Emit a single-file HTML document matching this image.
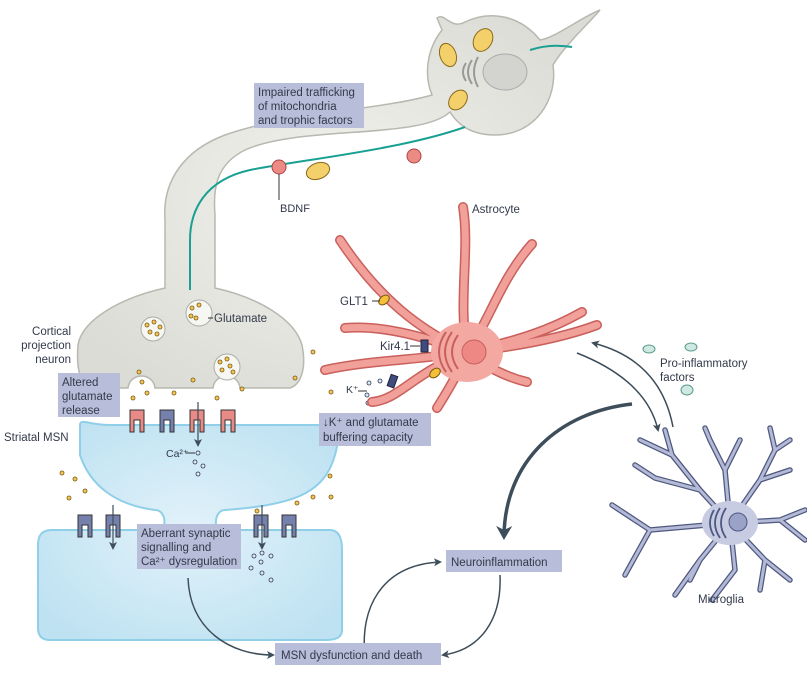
<!DOCTYPE html>
<html><head><meta charset="utf-8"><style>
body{margin:0;background:#fff}
svg text{font-family:"Liberation Sans",sans-serif;fill:#333a4a}
</style></head><body>
<svg width="807" height="669" viewBox="0 0 807 669" xmlns="http://www.w3.org/2000/svg">
<defs>
<radialGradient id="g1" cx="50%" cy="50%" r="60%"><stop offset="0" stop-color="#f2f2ee"/><stop offset="1" stop-color="#dcdcd6"/></radialGradient>
<radialGradient id="g2" cx="50%" cy="50%" r="60%"><stop offset="0" stop-color="#e2f2fa"/><stop offset="1" stop-color="#bfe2f2"/></radialGradient>
<marker id="ah" markerWidth="8" markerHeight="8" refX="6" refY="4" orient="auto" markerUnits="userSpaceOnUse"><path d="M0,0 L8,4 L0,8 L2,4Z" fill="#3d4d5a"/></marker>
<marker id="ah2" markerWidth="16" markerHeight="16" refX="10" refY="8" orient="auto" markerUnits="userSpaceOnUse"><path d="M0,0 L14,8 L0,16 L4,8Z" fill="#3d4d5a"/></marker>
</defs>
<!-- neuron -->
<g stroke="#b8b8b0" stroke-width="1.5" fill="url(#g1)">
<path d="M437,18 C445,12 450,30 465,22 C490,10 520,15 540,40 C555,38 580,18 600,10 C590,22 565,45 553,65 C558,100 535,135 495,135 C472,135 458,125 450,112 C420,140 300,125 245,150 C215,165 213,190 215,215 L215,288 C260,298 295,320 302,345 C307,370 300,385 290,388 L240,388 C238,372 215,372 213,388 L155,388 C153,372 130,372 128,388 L95,388 C80,386 76,370 78,345 C82,320 120,298 165,288 L165,220 C162,180 185,150 225,135 C290,112 380,110 432,95 C422,70 430,45 442,30Z"/>
</g>
<path d="M465,127 C400,150 300,160 250,170 C205,180 190,210 190,240 L190,290" fill="none" stroke="#1aa092" stroke-width="2"/>
<path d="M530,50 C545,45 560,45 572,47" fill="none" stroke="#1aa092" stroke-width="2"/>
<ellipse cx="505" cy="72" rx="22" ry="18" fill="#d3d3cf" stroke="#aaa" stroke-width="1"/>
<g fill="none" stroke="#999" stroke-width="2"><path d="M478,57 q-8,15 0,30"/><path d="M472,60 q-8,12 0,24"/><path d="M466,63 q-6,9 0,18"/></g>
<g fill="#f4d06a" stroke="#8a6a1a" stroke-width="1"><ellipse cx="448" cy="55" rx="8" ry="12" transform="rotate(-20 448 55)"/><ellipse cx="483" cy="40" rx="9" ry="12" transform="rotate(30 483 40)"/><ellipse cx="458" cy="100" rx="8" ry="11" transform="rotate(40 458 100)"/><ellipse cx="318" cy="171" rx="12" ry="8" transform="rotate(-20 318 171)"/></g>
<circle cx="279" cy="167" r="7" fill="#ec8a84" stroke="#a44" /><circle cx="414" cy="156" r="7" fill="#ec8a84" stroke="#a44"/>
<line x1="279" y1="174" x2="279" y2="200" stroke="#333" stroke-width="1"/>
<text x="280" y="212" font-size="11">BDNF</text>
<rect x="254" y="83" width="110" height="45" fill="#b8bdd9"/>
<text font-size="11.5"><tspan x="258" y="96">Impaired trafficking</tspan><tspan x="258" y="110">of mitochondria</tspan><tspan x="258" y="124">and trophic factors</tspan></text>
<!-- vesicles -->
<g fill="#f6f6f2" stroke="#aaa"><circle cx="153" cy="329" r="12"/><circle cx="199" cy="313" r="13"/><circle cx="227" cy="367" r="13"/></g>
<g fill="#f4c55a" stroke="#7a5a10" stroke-width="0.8">
<circle cx="147" cy="325" r="2"/><circle cx="154" cy="322" r="2"/><circle cx="160" cy="327" r="2"/><circle cx="150" cy="332" r="2"/><circle cx="157" cy="334" r="2"/>
<circle cx="192" cy="308" r="2"/><circle cx="199" cy="305" r="2"/><circle cx="191" cy="316" r="2"/><circle cx="196" cy="318" r="2"/>
<circle cx="220" cy="362" r="2"/><circle cx="227" cy="359" r="2"/><circle cx="230" cy="366" r="2"/><circle cx="222" cy="370" r="2"/><circle cx="233" cy="372" r="2"/>
<circle cx="139" cy="372" r="2"/><circle cx="142" cy="382" r="2"/><circle cx="147" cy="393" r="2"/><circle cx="133" cy="398" r="2"/><circle cx="174" cy="393" r="2"/><circle cx="193" cy="380" r="2"/><circle cx="217" cy="398" r="2"/><circle cx="242" cy="389" r="2"/><circle cx="295" cy="378" r="2"/><circle cx="313" cy="352" r="2"/>
<circle cx="62" cy="473" r="2"/><circle cx="75" cy="479" r="2"/><circle cx="85" cy="491" r="2"/><circle cx="69" cy="498" r="2"/><circle cx="309" cy="460" r="2"/><circle cx="309" cy="482" r="2"/><circle cx="313" cy="497" r="2"/><circle cx="279" cy="500" r="2"/><circle cx="297" cy="503" r="2"/><circle cx="257" cy="511" r="2"/><circle cx="331" cy="462" r="2"/><circle cx="330" cy="476" r="2"/><circle cx="331" cy="497" r="2"/>
</g>
<line x1="208" y1="318" x2="213" y2="318" stroke="#333"/>
<text x="214" y="322" font-size="11.5">Glutamate</text>
<text font-size="11.5" text-anchor="end"><tspan x="71" y="335">Cortical</tspan><tspan x="71" y="349">projection</tspan><tspan x="71" y="363">neuron</tspan></text>
<rect x="58" y="373" width="62" height="44" fill="#b8bdd9"/>
<text font-size="11.5"><tspan x="62" y="386">Altered</tspan><tspan x="62" y="400">glutamate</tspan><tspan x="62" y="414">release</tspan></text>
<!-- MSN -->
<path d="M80,425 C80,418 90,425 110,425 L320,425 C335,425 342,430 335,455 C325,490 300,505 225,510 C215,510 213,528 220,530 L330,530 C340,530 342,540 342,550 L342,630 C342,638 335,640 325,640 L50,640 C42,640 38,636 38,628 L38,545 C38,535 42,530 52,530 L160,530 C167,528 166,510 155,510 C115,505 90,485 80,455Z" fill="url(#g2)" stroke="#8fcfe8" stroke-width="2"/>
<text x="4" y="441" font-size="11.5">Striatal MSN</text>
<g stroke="#333" stroke-width="1"><g fill="#e88a86"><path d="M130,410 h14 v22 h-4 v-12 h-6 v12 h-4z"/><path d="M190,410 h14 v22 h-4 v-12 h-6 v12 h-4z"/><path d="M221,410 h14 v22 h-4 v-12 h-6 v12 h-4z"/></g>
<g fill="#7580ad"><path d="M160,410 h14 v22 h-4 v-12 h-6 v12 h-4z"/><path d="M78,515 h14 v22 h-4 v-12 h-6 v12 h-4z"/><path d="M106,515 h14 v22 h-4 v-12 h-6 v12 h-4z"/><path d="M254,515 h14 v22 h-4 v-12 h-6 v12 h-4z"/><path d="M282,515 h14 v22 h-4 v-12 h-6 v12 h-4z"/></g></g>
<g stroke="#3d4d5a" stroke-width="1.2" marker-end="url(#ah)"><line x1="198" y1="402" x2="198" y2="445"/><line x1="113" y1="505" x2="113" y2="548"/><line x1="262" y1="505" x2="262" y2="548"/></g>
<g fill="#d8ecf6" stroke="#335" stroke-width="0.8"><circle cx="198" cy="453" r="2"/><circle cx="195" cy="462" r="2"/><circle cx="203" cy="466" r="2"/><circle cx="198" cy="474" r="2"/>
<circle cx="254" cy="556" r="2"/><circle cx="262" cy="553" r="2"/><circle cx="271" cy="556" r="2"/><circle cx="261" cy="562" r="2"/><circle cx="251" cy="568" r="2"/><circle cx="262" cy="573" r="2"/><circle cx="271" cy="580" r="2"/>
<circle cx="369" cy="383" r="2"/><circle cx="380" cy="381" r="2"/><circle cx="367" cy="395" r="2"/><circle cx="368" cy="403" r="2"/></g>
<line x1="186" y1="453" x2="195" y2="453" stroke="#333"/><text x="166" y="457" font-size="10.5">Ca²⁺</text>
<rect x="137" y="524" width="104" height="45" fill="#b8bdd9"/>
<text font-size="11.5"><tspan x="141" y="537">Aberrant synaptic</tspan><tspan x="141" y="551">signalling and</tspan><tspan x="141" y="565">Ca²⁺ dysregulation</tspan></text>
<!-- astrocyte -->
<g fill="none" stroke-linecap="round" stroke="#c9605c" stroke-width="10">
<path d="M467,352 C458,300 470,250 463,207 M467,352 C420,330 380,300 340,240 M467,352 C420,335 380,325 345,328 M467,352 C420,360 370,360 325,370 M440,365 C410,380 395,400 372,402 M467,352 C455,380 445,395 437,408 M467,352 C490,320 500,280 532,244 M467,352 C520,340 550,330 582,312 M467,352 C530,345 570,335 597,325 M467,352 C490,370 510,378 527,382"/></g>
<g fill="none" stroke-linecap="round" stroke="#f2a09a" stroke-width="7">
<path d="M467,352 C458,300 470,250 463,207 M467,352 C420,330 380,300 340,240 M467,352 C420,335 380,325 345,328 M467,352 C420,360 370,360 325,370 M440,365 C410,380 395,400 372,402 M467,352 C455,380 445,395 437,408 M467,352 C490,320 500,280 532,244 M467,352 C520,340 550,330 582,312 M467,352 C530,345 570,335 597,325 M467,352 C490,370 510,378 527,382"/></g>
<ellipse cx="467" cy="352" rx="36" ry="30" fill="#f4a8a2"/>
<circle cx="474" cy="352" r="12" fill="#ee8884" stroke="#c9605c"/>
<g fill="none" stroke="#c9605c" stroke-width="2"><path d="M458,335 q-12,17 0,34"/><path d="M452,332 q-14,20 0,40"/><path d="M446,332 q-14,20 0,40"/></g>
<text x="472" y="213" font-size="11.5">Astrocyte</text>
<ellipse cx="384" cy="300" rx="6" ry="4" fill="#f4c03a" stroke="#7a5a10" transform="rotate(-40 384 300)"/>
<ellipse cx="435" cy="373" rx="6" ry="4" fill="#f4c03a" stroke="#7a5a10" transform="rotate(-40 435 373)"/>
<line x1="372" y1="301" x2="380" y2="301" stroke="#333"/><text x="340" y="305" font-size="11.5">GLT1</text>
<rect x="421" y="340" width="7" height="12" fill="#3f4c80" stroke="#223"/>
<rect x="389" y="375" width="7" height="12" fill="#3f4c80" stroke="#223" transform="rotate(20 392 381)"/>
<line x1="410" y1="346" x2="420" y2="346" stroke="#333"/><text x="380" y="350" font-size="11.5">Kir4.1</text>
<text x="346" y="393" font-size="10.5">K⁺</text><line x1="358" y1="391" x2="367" y2="391" stroke="#333"/>
<circle cx="331" cy="392" r="2" fill="#f4c55a" stroke="#7a5a10" stroke-width="0.8"/>
<rect x="319" y="413" width="112" height="33" fill="#b8bdd9"/>
<text font-size="11.5"><tspan x="323" y="426">↓K⁺ and glutamate</tspan><tspan x="323" y="441">buffering capacity</tspan></text>
<!-- microglia -->
<g fill="none" stroke-linecap="round" stroke-linejoin="round" stroke="#4e5880" stroke-width="5.5">
<path d="M730,523 L700,490 L672,455 L640,440 M672,455 L665,430 M700,490 L655,478 L635,465 M730,523 L725,470 L710,440 L705,428 M725,470 L740,440 M730,523 L760,480 L775,450 L770,428 M775,450 L790,440 M760,480 L790,470 M730,523 L780,520 L805,510 M780,520 L805,540 M730,523 L650,530 L612,505 M650,530 L625,575 M730,523 L700,560 L675,595 M700,560 L690,580 M730,523 L735,570 L712,600 M730,523 L765,560 L790,580 M765,560 L760,590"/>
</g>
<g fill="none" stroke-linecap="round" stroke-linejoin="round" stroke="#b4bad6" stroke-width="3">
<path d="M730,523 L700,490 L672,455 L640,440 M672,455 L665,430 M700,490 L655,478 L635,465 M730,523 L725,470 L710,440 L705,428 M725,470 L740,440 M730,523 L760,480 L775,450 L770,428 M775,450 L790,440 M760,480 L790,470 M730,523 L780,520 L805,510 M780,520 L805,540 M730,523 L650,530 L612,505 M650,530 L625,575 M730,523 L700,560 L675,595 M700,560 L690,580 M730,523 L735,570 L712,600 M730,523 L765,560 L790,580 M765,560 L760,590"/>
</g>
<ellipse cx="730" cy="523" rx="28" ry="22" fill="#c8cce2"/>
<circle cx="738" cy="522" r="9" fill="#9aa2c8" stroke="#4e5880"/>
<g fill="none" stroke="#4e5880" stroke-width="1.8"><path d="M726,508 q-10,15 0,30"/><path d="M720,508 q-10,15 0,30"/><path d="M714,510 q-8,13 0,26"/></g>
<text x="698" y="603" font-size="11.5">Microglia</text>
<g fill="#cfe8e2" stroke="#5a9a8a"><ellipse cx="649" cy="349" rx="6" ry="4"/><ellipse cx="691" cy="347" rx="6" ry="4"/><ellipse cx="687" cy="390" rx="6" ry="5"/></g>
<text font-size="11.5"><tspan x="660" y="367">Pro-inflammatory</tspan><tspan x="660" y="381">factors</tspan></text>
<!-- arrows -->
<g fill="none" stroke="#3d4d5a" stroke-width="1.5">
<path d="M577,353 C620,370 650,395 658,430" marker-end="url(#ah)"/>
<path d="M673,427 C665,385 640,355 593,343" marker-end="url(#ah)"/>
<path d="M632,404 C560,412 505,460 504,536" stroke-width="3.5" marker-end="url(#ah2)"/>
<path d="M188,578 C190,630 230,655 273,655" marker-end="url(#ah)"/>
<path d="M500,575 C502,620 480,650 443,655" marker-end="url(#ah)"/>
<path d="M365,655 C360,610 380,565 440,562" marker-end="url(#ah)"/>
</g>
<rect x="446" y="550" width="116" height="22" fill="#b8bdd9"/><text x="451" y="566" font-size="11.5">Neuroinflammation</text>
<rect x="275" y="643" width="166" height="22" fill="#b8bdd9"/><text x="281" y="659" font-size="11.5">MSN dysfunction and death</text>
</svg>
</body></html>
